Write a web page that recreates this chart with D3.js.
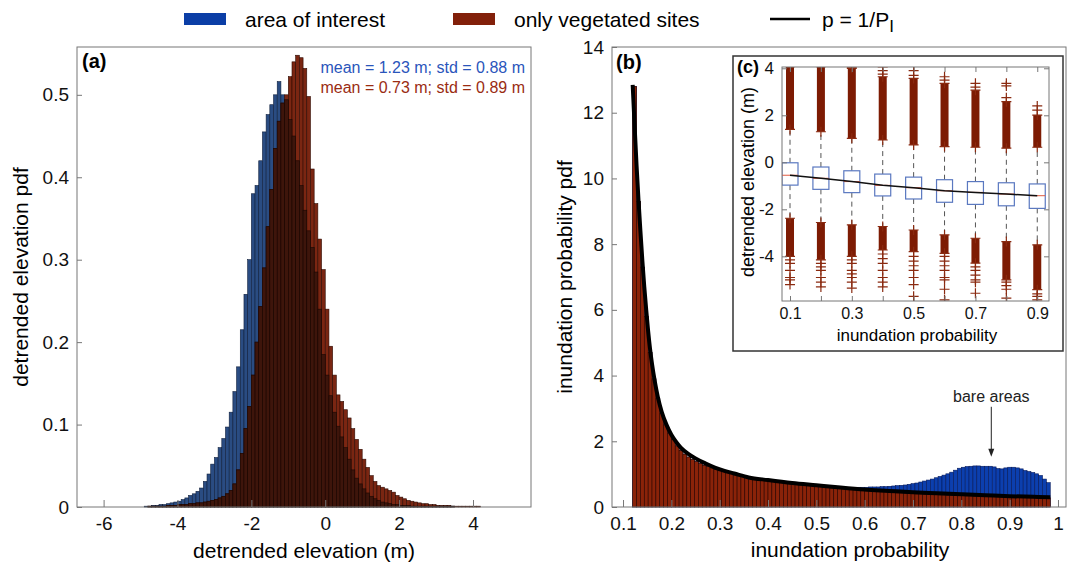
<!DOCTYPE html>
<html>
<head>
<meta charset="utf-8">
<script src="https://cdn.jsdelivr.net/npm/d3@7"></script>
<style>
  body { margin: 0; background: #fff; }
  svg { font-family: "Liberation Sans", Arial, sans-serif; }
  .frame { fill: none; stroke: #777; stroke-width: 1; }
  .axis .domain { display: none; }
  .axis line { stroke: #777; }
  .axis text { fill: #111; }
</style>
</head>
<body>
<script>
// ---------- panel (a): detrended elevation pdf, 0.1 m bins from -5 m
var elevStart = -5.0, elevStep = 0.1;
var aoiElevPdf = [
  0.000,0.001,0.001,0.002,0.002,0.003,0.003,0.004,0.005,0.006,
  0.007,0.009,0.011,0.014,0.016,0.019,0.023,0.031,0.040,0.052,
  0.060,0.072,0.083,0.097,0.115,0.140,0.170,0.215,0.258,0.300,
  0.380,0.390,0.420,0.455,0.476,0.488,0.500,0.516,0.500,0.494,
  0.470,0.450,0.420,0.390,0.360,0.335,0.315,0.285,0.240,0.185,
  0.160,0.135,0.115,0.098,0.085,0.072,0.058,0.045,0.035,0.028,
  0.022,0.017,0.013,0.010,0.008,0.006,0.005,0.004,0.003,0.003,
  0.002,0.002,0.002,0.001,0.001,0.001,0.001,0.001,0.001,0.001,
  0.001,0.001,0.001,0.001,0.001,0.000,0.000,0.000,0.000,0.000,
  0.000,0.000,0.000,0.000,0.000];
var vegElevPdf = [
  0.000,0.000,0.001,0.001,0.001,0.001,0.001,0.002,0.002,0.002,
  0.003,0.003,0.003,0.004,0.004,0.005,0.005,0.006,0.007,0.008,
  0.009,0.011,0.013,0.016,0.020,0.028,0.045,0.065,0.095,0.122,
  0.160,0.200,0.243,0.290,0.340,0.385,0.435,0.468,0.490,0.500,
  0.522,0.540,0.548,0.545,0.532,0.498,0.410,0.368,0.325,0.288,
  0.240,0.195,0.160,0.136,0.128,0.118,0.108,0.095,0.082,0.070,
  0.058,0.048,0.038,0.031,0.026,0.024,0.022,0.020,0.018,0.014,
  0.012,0.010,0.008,0.007,0.006,0.005,0.004,0.004,0.003,0.003,
  0.002,0.002,0.002,0.002,0.001,0.001,0.001,0.001,0.001,0.001,
  0.001,0.001,0.000,0.000,0.000];
var elevTicks = [-6, -4, -2, 0, 2, 4];
var elevPdfTicks = [0, 0.1, 0.2, 0.3, 0.4, 0.5];
var statLines = ["mean = 1.23 m; std = 0.88 m", "mean = 0.73 m; std = 0.89 m"];

// ---------- panel (b): inundation probability pdf, 0.008 bins from 0.12
var probStart = 0.12, probStep = 0.008;
var vegProbPdf = [
  12.8,9.3,7.3,5.8,4.7,3.9,3.3,2.85,2.5,2.25,
  2.05,1.86,1.72,1.61,1.52,1.45,1.38,1.32,1.27,1.23,
  1.19,1.15,1.12,1.08,1.05,1.02,0.99,0.96,0.94,0.92,
  0.90,0.88,0.86,0.84,0.82,0.80,0.79,0.77,0.76,0.74,
  0.73,0.71,0.70,0.68,0.67,0.66,0.64,0.63,0.62,0.61,
  0.59,0.58,0.57,0.56,0.55,0.54,0.53,0.52,0.51,0.50,
  0.49,0.49,0.48,0.47,0.46,0.46,0.45,0.44,0.43,0.43,
  0.42,0.41,0.41,0.40,0.40,0.39,0.39,0.38,0.38,0.37,
  0.37,0.36,0.36,0.35,0.35,0.35,0.34,0.34,0.33,0.33,
  0.33,0.32,0.32,0.32,0.31,0.31,0.31,0.30,0.30,0.30,
  0.30,0.29,0.29,0.29,0.29,0.28,0.28,0.28];
var aoiProbPdf = [
  12.8,9.3,7.3,5.8,4.7,3.9,3.3,2.85,2.5,2.25,
  2.05,1.86,1.72,1.61,1.52,1.45,1.38,1.32,1.27,1.23,
  1.19,1.15,1.12,1.08,1.05,1.02,0.99,0.96,0.94,0.92,
  0.90,0.88,0.86,0.84,0.82,0.80,0.79,0.77,0.76,0.74,
  0.73,0.71,0.70,0.68,0.67,0.66,0.64,0.63,0.62,0.61,
  0.59,0.58,0.58,0.57,0.57,0.58,0.59,0.59,0.60,0.60,
  0.60,0.61,0.61,0.61,0.62,0.62,0.63,0.64,0.65,0.66,
  0.67,0.69,0.71,0.73,0.76,0.79,0.82,0.85,0.89,0.93,
  0.97,1.01,1.06,1.12,1.18,1.21,1.23,1.24,1.25,1.25,
  1.24,1.24,1.24,1.22,1.17,1.16,1.19,1.21,1.21,1.19,
  1.16,1.11,1.08,1.05,1.01,0.96,0.85,0.74];
// fitted curve p = 1/P_I
var fitProb = [0.12,0.124,0.128,0.132,0.136,0.14,0.144,0.148,0.152,0.156,
  0.16,0.166,0.172,0.18,0.19,0.2,0.21,0.22,0.235,0.25,
  0.27,0.29,0.31,0.33,0.36,0.4,0.45,0.5,0.55,0.6,
  0.65,0.7,0.75,0.8,0.85,0.9,0.95,0.984];
var fitPdf = [12.85,11.6,10.4,9.35,8.4,7.5,6.7,6.0,5.35,4.8,
  4.35,3.8,3.35,2.9,2.5,2.2,1.98,1.8,1.62,1.48,
  1.33,1.2,1.1,1.02,0.90,0.82,0.73,0.66,0.59,0.53,
  0.49,0.45,0.42,0.39,0.36,0.33,0.31,0.30];
var probTicks = [0.1, 0.2, 0.3, 0.4, 0.5, 0.6, 0.7, 0.8, 0.9, 1];
var probPdfTicks = [0, 2, 4, 6, 8, 10, 12, 14];

// ---------- panel (c): boxplots of elevation per inundation probability
var boxProb = [0.1, 0.2, 0.3, 0.4, 0.5, 0.6, 0.7, 0.8, 0.9];
var boxQ1  = [-0.97, -1.15, -1.29, -1.43, -1.56, -1.70, -1.79, -1.85, -1.96];
var boxMed = [-0.55, -0.68, -0.82, -0.98, -1.08, -1.21, -1.28, -1.35, -1.42];
var boxQ3  = [-0.02, -0.20, -0.36, -0.50, -0.63, -0.74, -0.82, -0.87, -0.92];
var whiskHi = [1.40, 1.30, 1.02, 0.95, 0.74, 0.67, 0.64, 0.60, 0.64];
var whiskLo = [-2.38, -2.56, -2.66, -2.73, -2.88, -3.09, -3.23, -3.37, -3.51];
// dense runs of outliers beyond the whiskers
var denseHiTop = [4.07, 4.07, 4.00, 3.64, 3.57, 3.36, 3.07, 2.58, 2.01];
var denseLoBot = [-4.00, -4.15, -4.00, -3.73, -3.80, -3.87, -4.29, -5.00, -5.42];
// isolated outliers
var sparseOut = [
  [-4.15, -4.3, -4.6, -4.9, -5.0, -5.2],
  [-4.3, -4.45, -4.6, -4.9, -5.1, -5.3],
  [4.05, -4.15, -4.3, -4.6, -4.75, -4.9, -5.1, -5.35],
  [3.75, 3.9, 4.06, -3.9, -4.1, -4.3, -4.6, -4.9, -5.1, -5.3],
  [3.7, 3.9, 4.12, -4.0, -4.2, -4.4, -4.6, -4.9, -5.2, -5.7],
  [3.5, 3.64, -4.0, -4.2, -4.4, -4.6, -4.9, -5.0, -5.4, -5.85],
  [3.2, 3.36, -4.45, -4.6, -4.8, -5.0, -5.1, -5.57],
  [2.75, 3.25, 3.36, -5.1, -5.25, -5.4, -5.78],
  [2.22, 2.4, -5.6, -5.7, -5.85]
];
var insetXTicks = [0.1, 0.2, 0.3, 0.4, 0.5, 0.6, 0.7, 0.8, 0.9];
var insetXLabels = [0.1, 0.3, 0.5, 0.7, 0.9];
var insetYTicks = [-4, -2, 0, 2, 4];

var legendLabels = ["area of interest", "only vegetated sites", "p = 1/P"];

var blue = "#0b3ea6", red = "#82200a";

var svg = d3.select("body").append("svg")
    .attr("width", 1067)
    .attr("height", 564);

// ======================= panel (a)
var pa = {left: 77, right: 531, top: 47, bottom: 507};
var xA = d3.scaleLinear().domain([-6.72, 5.57]).range([pa.left, pa.right]);
var yA = d3.scaleLinear().domain([0, 0.558]).range([pa.bottom, pa.top]);

var gA = svg.append("g");

function elevBars(g, values, fill, stroke) {
  g.append("g").selectAll("rect")
      .data(values)
    .enter().append("rect")
      .attr("x", function(d, i) { return xA(elevStart + i * elevStep); })
      .attr("width", function(d, i) { return xA(elevStart + (i + 1) * elevStep) - xA(elevStart + i * elevStep); })
      .attr("y", function(d) { return yA(d); })
      .attr("height", function(d) { return yA(0) - yA(d); })
      .attr("fill", fill)
      .attr("stroke", stroke)
      .attr("stroke-width", 0.6);
}
elevBars(gA, aoiElevPdf, "#2a4c82", "#0f1f3c");
elevBars(gA, vegElevPdf, "#7a2612", "#2e0a02");
// where both histograms overlap the (semi-transparent) red looks much darker
elevBars(gA, vegElevPdf.map(function(d, i) { return Math.min(d, aoiElevPdf[i]); }), "#3e150b", "#1a0703");

gA.append("g")
    .attr("class", "axis")
    .attr("transform", "translate(0," + pa.bottom + ")")
    .call(d3.axisBottom(xA).tickValues(elevTicks).tickSize(-7).tickPadding(10)
        .tickFormat(function(d) { return String(d); }))
    .selectAll("text").style("font-size", "19px");

gA.append("g")
    .attr("class", "axis")
    .attr("transform", "translate(" + pa.left + ",0)")
    .call(d3.axisLeft(yA).tickValues(elevPdfTicks).tickSize(-5).tickPadding(8)
        .tickFormat(function(d) { return String(d); }))
    .selectAll("text").style("font-size", "19px");

gA.append("rect").attr("class", "frame")
    .attr("x", pa.left).attr("y", pa.top)
    .attr("width", pa.right - pa.left).attr("height", pa.bottom - pa.top);

gA.append("text")
    .attr("x", pa.left + 5).attr("y", 68)
    .style("font-size", "20px").style("font-weight", "bold")
    .text("(a)");

gA.selectAll(".stat")
    .data(statLines)
  .enter().append("text")
    .attr("class", "stat")
    .attr("x", pa.right - 6)
    .attr("y", function(d, i) { return 73 + i * 20; })
    .attr("text-anchor", "end")
    .style("font-size", "16px")
    .attr("fill", function(d, i) { return i == 0 ? "#2a55bb" : "#9a2c12"; })
    .text(function(d) { return d; });

gA.append("text")
    .attr("x", (pa.left + pa.right) / 2).attr("y", 558)
    .attr("text-anchor", "middle")
    .style("font-size", "21px")
    .text("detrended elevation (m)");

gA.append("text")
    .attr("transform", "translate(28," + ((pa.top + pa.bottom) / 2) + ") rotate(-90)")
    .attr("text-anchor", "middle")
    .style("font-size", "21px")
    .text("detrended elevation pdf");

// ======================= panel (b)
var pb = {left: 612, right: 1066, top: 47, bottom: 507};
var xB = d3.scaleLinear().domain([0.0772, 1.0166]).range([pb.left, pb.right]);
var yB = d3.scaleLinear().domain([0, 14]).range([pb.bottom, pb.top]);

var gB = svg.append("g");

function probBars(values, fill, stroke) {
  gB.append("g").selectAll("rect")
      .data(values)
    .enter().append("rect")
      .attr("x", function(d, i) { return xB(probStart + i * probStep); })
      .attr("width", function(d, i) { return xB(probStart + (i + 1) * probStep) - xB(probStart + i * probStep); })
      .attr("y", function(d) { return yB(d); })
      .attr("height", function(d) { return yB(0) - yB(d); })
      .attr("fill", fill)
      .attr("stroke", stroke)
      .attr("stroke-width", 0.6);
}
probBars(aoiProbPdf, "#0c3fae", "#061a5c");
probBars(vegProbPdf, "#8a2309", "#300900");

var fitLine = d3.line()
    .x(function(d, i) { return xB(fitProb[i]); })
    .y(function(d) { return yB(d); })
    .curve(d3.curveMonotoneX);

gB.append("path")
    .datum(fitPdf)
    .attr("d", fitLine)
    .attr("fill", "none")
    .attr("stroke", "#000")
    .attr("stroke-width", 4);

gB.append("g")
    .attr("class", "axis")
    .attr("transform", "translate(0," + pb.bottom + ")")
    .call(d3.axisBottom(xB).tickValues(probTicks).tickSize(-7).tickPadding(10)
        .tickFormat(function(d) { return String(d); }))
    .selectAll("text").style("font-size", "19px");

gB.append("g")
    .attr("class", "axis")
    .attr("transform", "translate(" + pb.left + ",0)")
    .call(d3.axisLeft(yB).tickValues(probPdfTicks).tickSize(-5).tickPadding(8)
        .tickFormat(function(d) { return String(d); }))
    .selectAll("text").style("font-size", "19px");

gB.append("rect").attr("class", "frame")
    .attr("x", pb.left).attr("y", pb.top)
    .attr("width", pb.right - pb.left).attr("height", pb.bottom - pb.top);

gB.append("text")
    .attr("x", pb.left + 4).attr("y", 69)
    .style("font-size", "20px").style("font-weight", "bold")
    .text("(b)");

// bare areas annotation
gB.append("text")
    .attr("x", xB(0.862)).attr("y", yB(3.2))
    .attr("text-anchor", "middle")
    .style("font-size", "16px")
    .attr("fill", "#222")
    .text("bare areas");
gB.append("line")
    .attr("x1", xB(0.862)).attr("x2", xB(0.862))
    .attr("y1", yB(3.05)).attr("y2", yB(1.62))
    .attr("stroke", "#222").attr("stroke-width", 1);
gB.append("path")
    .attr("d", "M" + (xB(0.862) - 3) + "," + (yB(1.62) - 5) + "L" + (xB(0.862) + 3) + "," + (yB(1.62) - 5) + "L" + xB(0.862) + "," + yB(1.53) + "Z")
    .attr("fill", "#222");

gB.append("text")
    .attr("x", (pb.left + 1058) / 2 + 15).attr("y", 557)
    .attr("text-anchor", "middle")
    .style("font-size", "21px")
    .text("inundation probability");

gB.append("text")
    .attr("transform", "translate(572," + ((pb.top + pb.bottom) / 2) + ") rotate(-90)")
    .attr("text-anchor", "middle")
    .style("font-size", "21px")
    .text("inundation probability pdf");

// ======================= panel (c) inset
var gC = svg.append("g");
gC.append("rect")
    .attr("x", 733).attr("y", 56).attr("width", 330).attr("height", 295)
    .attr("fill", "#fff").attr("stroke", "#333").attr("stroke-width", 1.5);

var pc = {left: 782, right: 1049, top: 67, bottom: 301};
var xC = d3.scaleLinear().domain([0.0741, 0.938]).range([pc.left, pc.right]);
var yC = d3.scaleLinear().domain([-5.9, 4.055]).range([pc.bottom, pc.top]);

svg.append("clipPath").attr("id", "clipC")
  .append("rect")
    .attr("x", pc.left).attr("y", pc.top)
    .attr("width", pc.right - pc.left).attr("height", pc.bottom - pc.top);

var inner = gC.append("g").attr("clip-path", "url(#clipC)");
var boxW = 16, bandW = 8;

// whiskers (dashed)
inner.selectAll(".whHi")
    .data(boxProb)
  .enter().append("line")
    .attr("x1", function(d) { return xC(d); }).attr("x2", function(d) { return xC(d); })
    .attr("y1", function(d, i) { return yC(boxQ3[i]); })
    .attr("y2", function(d, i) { return yC(whiskHi[i]); })
    .attr("stroke", "#555").attr("stroke-dasharray", "5,4");
inner.selectAll(".whLo")
    .data(boxProb)
  .enter().append("line")
    .attr("x1", function(d) { return xC(d); }).attr("x2", function(d) { return xC(d); })
    .attr("y1", function(d, i) { return yC(boxQ1[i]); })
    .attr("y2", function(d, i) { return yC(whiskLo[i]); })
    .attr("stroke", "#555").attr("stroke-dasharray", "5,4");

// dense outlier runs
inner.selectAll(".bandHi")
    .data(boxProb)
  .enter().append("rect")
    .attr("x", function(d) { return xC(d) - bandW / 2; })
    .attr("width", bandW)
    .attr("y", function(d, i) { return yC(denseHiTop[i]); })
    .attr("height", function(d, i) { return yC(whiskHi[i]) - yC(denseHiTop[i]); })
    .attr("fill", "#7d1b03");
inner.selectAll(".bandLo")
    .data(boxProb)
  .enter().append("rect")
    .attr("x", function(d) { return xC(d) - bandW / 2; })
    .attr("width", bandW)
    .attr("y", function(d, i) { return yC(whiskLo[i]); })
    .attr("height", function(d, i) { return yC(denseLoBot[i]) - yC(whiskLo[i]); })
    .attr("fill", "#7d1b03");

// plus markers: band ends and isolated outliers
var plusPts = [];
boxProb.forEach(function(p, i) {
  [whiskHi[i], denseHiTop[i], whiskLo[i], denseLoBot[i]].forEach(function(v) { plusPts.push([p, v]); });
  sparseOut[i].forEach(function(v) { plusPts.push([p, v]); });
});
inner.selectAll(".plus")
    .data(plusPts)
  .enter().append("path")
    .attr("transform", function(d) { return "translate(" + xC(d[0]) + "," + yC(d[1]) + ")"; })
    .attr("d", "M-5,0H5M0,-5V5")
    .attr("stroke", "#8a2a10").attr("stroke-width", 1.2);

// boxes
inner.selectAll(".box")
    .data(boxProb)
  .enter().append("rect")
    .attr("x", function(d) { return xC(d) - boxW / 2; })
    .attr("width", boxW)
    .attr("y", function(d, i) { return yC(boxQ3[i]); })
    .attr("height", function(d, i) { return yC(boxQ1[i]) - yC(boxQ3[i]); })
    .attr("fill", "#fff").attr("stroke", "#5a78c0").attr("stroke-width", 1.2);
inner.selectAll(".med")
    .data(boxProb)
  .enter().append("line")
    .attr("x1", function(d) { return xC(d) - boxW / 2; })
    .attr("x2", function(d) { return xC(d) + boxW / 2; })
    .attr("y1", function(d, i) { return yC(boxMed[i]); })
    .attr("y2", function(d, i) { return yC(boxMed[i]); })
    .attr("stroke", "#e05a40").attr("stroke-width", 1);

inner.append("path")
    .datum(boxMed)
    .attr("d", d3.line().x(function(d, i) { return xC(boxProb[i]); }).y(function(d) { return yC(d); }))
    .attr("fill", "none").attr("stroke", "#111").attr("stroke-width", 1.5);

// inset axes
gC.append("g").attr("class", "axis")
    .attr("transform", "translate(0," + pc.bottom + ")")
    .call(d3.axisBottom(xC).tickValues(insetXTicks).tickSize(-5).tickPadding(7)
        .tickFormat(function(d) { return insetXLabels.indexOf(d) >= 0 ? String(d) : ""; }))
    .selectAll("text").style("font-size", "16px");
gC.append("g").attr("class", "axis")
    .attr("transform", "translate(0," + pc.top + ")")
    .call(d3.axisTop(xC).tickValues(insetXTicks).tickSize(-5).tickFormat(""));
gC.append("g").attr("class", "axis")
    .attr("transform", "translate(" + pc.left + ",0)")
    .call(d3.axisLeft(yC).tickValues(insetYTicks).tickSize(-5).tickPadding(8)
        .tickFormat(function(d) { return String(d); }))
    .selectAll("text").style("font-size", "17px");
gC.append("g").attr("class", "axis")
    .attr("transform", "translate(" + pc.right + ",0)")
    .call(d3.axisRight(yC).tickValues(insetYTicks).tickSize(-5).tickFormat(""));

gC.append("rect").attr("class", "frame")
    .attr("x", pc.left).attr("y", pc.top)
    .attr("width", pc.right - pc.left).attr("height", pc.bottom - pc.top);

gC.append("text")
    .attr("x", 737).attr("y", 73)
    .style("font-size", "18px").style("font-weight", "bold")
    .text("(c)");

gC.append("text")
    .attr("x", 917).attr("y", 341)
    .attr("text-anchor", "middle")
    .style("font-size", "17px")
    .text("inundation probability");

gC.append("text")
    .attr("transform", "translate(754,182) rotate(-90)")
    .attr("text-anchor", "middle")
    .style("font-size", "18px")
    .text("detrended elevation (m)");

// ======================= legend
var leg = svg.append("g");
leg.append("rect").attr("x", 184).attr("y", 13).attr("width", 42).attr("height", 12).attr("fill", blue);
leg.append("text").attr("x", 245).attr("y", 27).style("font-size", "21px").text(legendLabels[0]);
leg.append("rect").attr("x", 453).attr("y", 13).attr("width", 42).attr("height", 12).attr("fill", red);
leg.append("text").attr("x", 514).attr("y", 27).style("font-size", "21px").text(legendLabels[1]);
leg.append("line").attr("x1", 770).attr("x2", 810).attr("y1", 19).attr("y2", 19)
    .attr("stroke", "#000").attr("stroke-width", 2.5);
var pt = leg.append("text").attr("x", 822).attr("y", 27).style("font-size", "21px");
pt.append("tspan").text(legendLabels[2]);
pt.append("tspan").attr("dx", 0).attr("dy", 5).style("font-size", "17px").text("I");
</script>
</body>
</html>
